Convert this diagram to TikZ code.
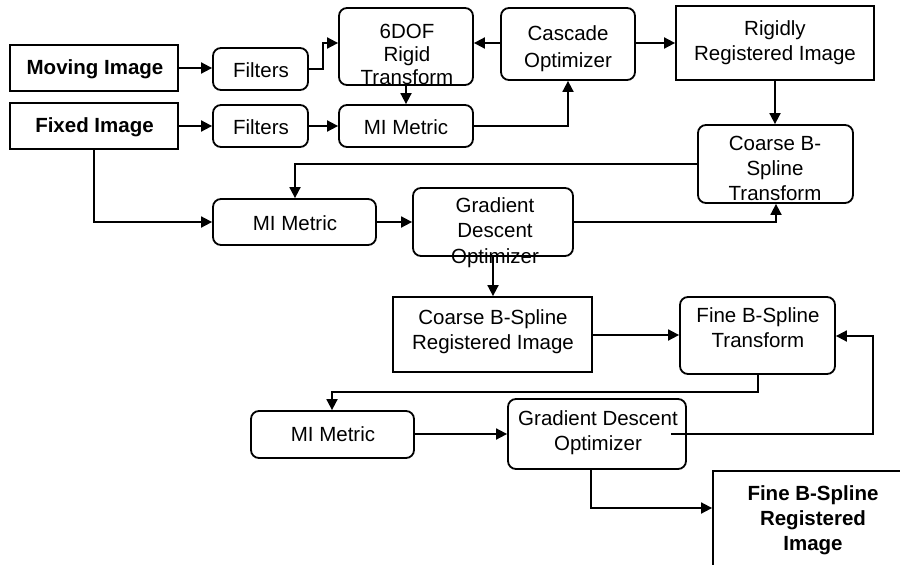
\documentclass[tikz,border=0pt]{standalone}
\usepackage{fontspec}
\setmainfont{Liberation Sans}
\usetikzlibrary{arrows.meta}
\tikzset{
  sq/.style={draw, line width=1.8pt, inner sep=0pt},
  rd/.style={sq, rounded corners=8pt},
  txt/.style={align=center, inner sep=0pt, anchor=base, font=\fontsize{20.5}{25}\selectfont},
  arr/.style={line width=1.8pt, -{Triangle[length=11pt,width=11pt]}},
}
\begin{document}
\begin{tikzpicture}[x=1pt,y=-1pt]
\useasboundingbox (0,0) rectangle (900,565);
\clip (0,0) rectangle (900,565);
% boxes
\node[sq, minimum width=168pt, minimum height=46pt] (mov) at (94,68) {};
\node[sq, minimum width=168pt, minimum height=46pt] (fix) at (94,126) {};
\node[rd, minimum width=95pt, minimum height=42pt] (fil1) at (260.5,69) {};
\node[rd, minimum width=95pt, minimum height=42pt] (fil2) at (260.5,126) {};
\node[rd, minimum width=134pt, minimum height=77pt] (six) at (406,46.5) {};
\node[rd, minimum width=134pt, minimum height=42pt] (mi1) at (406,126) {};
\node[rd, minimum width=134pt, minimum height=72pt] (casc) at (568,44) {};
\node[sq, minimum width=198pt, minimum height=74pt] (rig) at (775,43) {};
\node[rd, minimum width=155pt, minimum height=78pt] (cbt) at (775.5,164) {};
\node[rd, minimum width=163pt, minimum height=46pt] (mi2) at (294.5,222) {};
\node[rd, minimum width=160pt, minimum height=68pt] (gd1) at (493,222) {};
\node[sq, minimum width=199pt, minimum height=75pt] (cbr) at (492.5,334.5) {};
\node[rd, minimum width=155pt, minimum height=77pt] (fbt) at (757.5,335.5) {};
\node[rd, minimum width=163pt, minimum height=47pt] (mi3) at (332.5,434.5) {};
\node[rd, minimum width=178pt, minimum height=70pt] (gd2) at (597,434) {};
\node[sq, minimum width=200pt, minimum height=97pt] (fbr) at (813,519.5) {};
% texts (anchor base = baseline of the last line)
\node[txt, font=\fontsize{20.5}{25}\selectfont\bfseries] (tmov) at (95,74) {Moving Image};
\node[txt, font=\fontsize{20.5}{25}\selectfont\bfseries] (tfix) at (94.5,132) {Fixed Image};
\node[txt] (tfil1) at (261,77) {Filters};
\node[txt] (tfil2) at (261,134) {Filters};
\node[txt, font=\fontsize{20.5}{23}\selectfont] (tsix) at (407,84) {6DOF\\Rigid\\Transform};
\node[txt] (tmi1) at (406,134) {MI Metric};
\node[txt, font=\fontsize{20.5}{27}\selectfont] (tcasc) at (568,67) {Cascade\\Optimizer};
\node[txt] (trig) at (775,60) {Rigidly\\Registered Image};
\node[txt] (tcbt) at (775,200) {Coarse B-\\Spline\\Transform};
\node[txt] (tmi2) at (295,230) {MI Metric};
\node[txt, font=\fontsize{20.5}{25.5}\selectfont] (tgd1) at (495,263) {Gradient\\Descent\\Optimizer};
\node[txt] (tcbr) at (493,349) {Coarse B-Spline\\Registered Image};
\node[txt] (tfbt) at (758,347) {Fine B-Spline\\Transform};
\node[txt] (tmi3) at (333,441) {MI Metric};
\node[txt] (tgd2) at (598,450) {Gradient Descent\\Optimizer};
\node[txt, font=\fontsize{20.5}{25}\selectfont\bfseries] (tfbr) at (813,550) {Fine B-Spline\\Registered\\Image};
% connectors
\draw[arr] (mov.east) -- (mov.east -| fil1.west);
\draw[arr] (fil1.east) -- (323,69) |- (six.west |- 0,43);
\draw[arr] (six.south) -- (mi1.north);
\draw[arr] (fix.east) -- (fix.east -| fil2.west);
\draw[arr] (fil2.east) -- (mi1.west);
\draw[arr] (mi1.east) -| (casc.south);
\draw[arr] (casc.west |- 0,43) -- (six.east |- 0,43);
\draw[arr] (casc.east |- 0,43) -- (rig.west |- 0,43);
\draw[arr] (rig.south) -- (cbt.north -| rig.south);
\draw[arr] (cbt.west |- 0,164) -| (mi2.north -| 295,0);
\draw[arr] (fix.south) |- (mi2.west);
\draw[arr] (mi2.east) -- (gd1.west);
\draw[arr] (gd1.east) -| (cbt.south -| 776,0);
\draw[arr] (gd1.south) -- (cbr.north -| gd1.south);
\draw[arr] (cbr.east |- 0,335) -- (fbt.west |- 0,335);
\draw[arr] (fbt.south -| 758,0) -- (758,392) -| (mi3.north -| 332,0);
\draw[arr] (mi3.east |- 0,434) -- (gd2.west |- 0,434);
\draw[arr] ([xshift=-16pt]gd2.east) -- (873,434) |- (fbt.east |- 0,336);
\draw[arr] ([xshift=-6pt]gd2.south) |- (fbr.west |- 0,508);
\end{tikzpicture}
\end{document}
